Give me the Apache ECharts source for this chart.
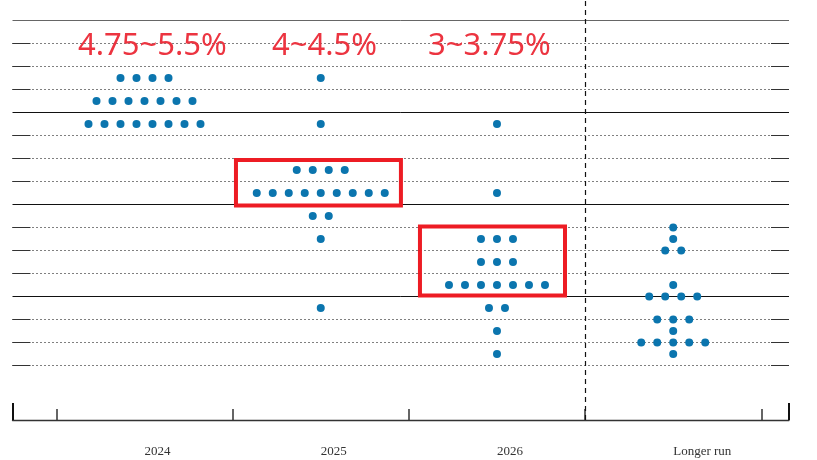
<!DOCTYPE html>
<html>
<head>
<meta charset="utf-8">
<script src="https://cdn.jsdelivr.net/npm/echarts@6/dist/echarts.min.js"></script>
<style>html,body{margin:0;padding:0;background:#fff;}#c{width:817px;height:460px;}</style>
</head>
<body>
<div id="c"></div>
<script>
// ---- data ----
const categories = ['2024', '2025', '2026', 'Longer run'];
const rates2024 = [5.375, 5.125, 4.875];
const counts2024 = [4, 7, 8];
const rates2025 = [5.375, 4.875, 4.375, 4.125, 3.875, 3.625, 2.875];
const counts2025 = [1, 1, 4, 9, 2, 1, 1];
const rates2026 = [4.875, 4.125, 3.625, 3.375, 3.125, 2.875, 2.625, 2.375];
const counts2026 = [1, 1, 3, 3, 7, 2, 1, 1];
const ratesLonger = [3.75, 3.625, 3.5, 3.125, 3.0, 2.75, 2.625, 2.5, 2.375];
const countsLonger = [1, 1, 2, 1, 4, 3, 1, 5, 1];
const gridLevels = [2.25, 2.5, 2.75, 3.0, 3.25, 3.5, 3.75, 4.0, 4.25, 4.5, 4.75, 5.0, 5.25, 5.5, 5.75, 6.0];
const rangeLabels = ['4.75~5.5%', '4~4.5%', '3~3.75%'];
const box2025 = { x: [0.519, 1.455], y: [3.989, 4.484] };
const box2026 = { x: [1.563, 2.386], y: [3.011, 3.761] };
const boundaryTicks = [-0.5, 0.5, 1.5, 2.5, 3.5];

// ---- layout constants ----
const X_MIN = -0.749, X_MAX = 3.657;
const Y_MAX = 6.22283, Y_MIN = 1.65761;
const DOT_GAP = 16;
const GRID = { left: 12.5, right: 28, top: 0, bottom: 40 };
const END_SEG = 0.102;

const columns = [
  [rates2024, counts2024],
  [rates2025, counts2025],
  [rates2026, counts2026],
  [ratesLonger, countsLonger]
];
const dotData = [];
columns.forEach(([rates, counts], ci) => {
  rates.forEach((r, ri) => {
    const n = counts[ri];
    for (let k = 0; k < n; k++) {
      dotData.push({ value: [ci, r], symbolOffset: [(k - (n - 1) / 2) * DOT_GAP, 0] });
    }
  });
});

const gridLineData = [];
gridLevels.forEach(v => {
  const whole = Math.abs(v - Math.round(v)) < 1e-9;
  if (whole) {
    gridLineData.push({ yAxis: v, lineStyle: { type: 'solid', color: v >= 6 ? '#666' : '#111', width: 1 } });
  } else {
    gridLineData.push({ yAxis: v, lineStyle: { type: [1, 3], color: '#000', width: 1 } });
    gridLineData.push([{ coord: [X_MIN, v], lineStyle: { type: 'solid', color: '#333', width: 1 } }, { coord: [X_MIN + END_SEG, v] }]);
    gridLineData.push([{ coord: [X_MAX - END_SEG, v], lineStyle: { type: 'solid', color: '#333', width: 1 } }, { coord: [X_MAX, v] }]);
  }
});
gridLineData.push({ xAxis: 2.5, lineStyle: { type: [5, 4], color: '#111', width: 1.2 } });

const chart = echarts.init(document.getElementById('c'), null, { renderer: 'canvas' });
chart.setOption({
  animation: false,
  backgroundColor: '#fff',
  grid: [
    Object.assign({}, GRID),
    Object.assign({}, GRID)
  ],
  xAxis: [
    {
      type: 'value', gridIndex: 0, min: X_MIN, max: X_MAX,
      splitLine: { show: false },
      axisLine: { show: true, lineStyle: { color: '#333', width: 1.3 } },
      axisTick: { show: true, inside: true, length: 11, customValues: boundaryTicks, lineStyle: { color: '#333', width: 1.5 } },
      axisLabel: {
        show: true, customValues: [0, 1, 2, 3], align: 'left', margin: 25,
        formatter: v => categories[Math.round(v)],
        fontFamily: 'Liberation Serif', fontSize: 13, color: '#333'
      }
    },
    {
      type: 'value', gridIndex: 1, min: X_MIN, max: X_MAX,
      splitLine: { show: false },
      axisLine: { show: false },
      axisTick: { show: true, inside: true, length: 17, customValues: [X_MIN, X_MAX], lineStyle: { color: '#111', width: 2 } },
      axisLabel: { show: false }
    }
  ],
  yAxis: [
    { type: 'value', gridIndex: 0, min: Y_MIN, max: Y_MAX, show: false, splitLine: { show: false } },
    { type: 'value', gridIndex: 1, min: Y_MIN, max: Y_MAX, show: false, splitLine: { show: false } }
  ],
  graphic: rangeLabels.map((t, i) => ({
    type: 'text',
    left: [78, 272, 428][i],
    top: 31,
    style: { text: t, fontFamily: 'Noto Sans', fontSize: 31, fill: '#EC3440' },
    z: 10
  })),
  series: [
    {
      type: 'line', xAxisIndex: 0, yAxisIndex: 0, data: [], z: 1, silent: true,
      markLine: {
        z: 1, silent: true, symbol: ['none', 'none'], label: { show: false },
        emphasis: { disabled: true },
        data: gridLineData
      },
      markArea: {
        z: 4, silent: true,
        itemStyle: { color: 'rgba(0,0,0,0)', borderColor: '#ED1C24', borderWidth: 4 },
        label: { show: false },
        data: [
          [{ coord: [box2025.x[0], box2025.y[1]] }, { coord: [box2025.x[1], box2025.y[0]] }],
          [{ coord: [box2026.x[0], box2026.y[1]] }, { coord: [box2026.x[1], box2026.y[0]] }]
        ]
      }
    },
    {
      type: 'scatter', xAxisIndex: 0, yAxisIndex: 0, z: 5, silent: true,
      symbol: 'circle', symbolSize: 8,
      itemStyle: { color: '#0B75AE', opacity: 1 },
      data: dotData
    }
  ]
});
</script>
</body>
</html>
